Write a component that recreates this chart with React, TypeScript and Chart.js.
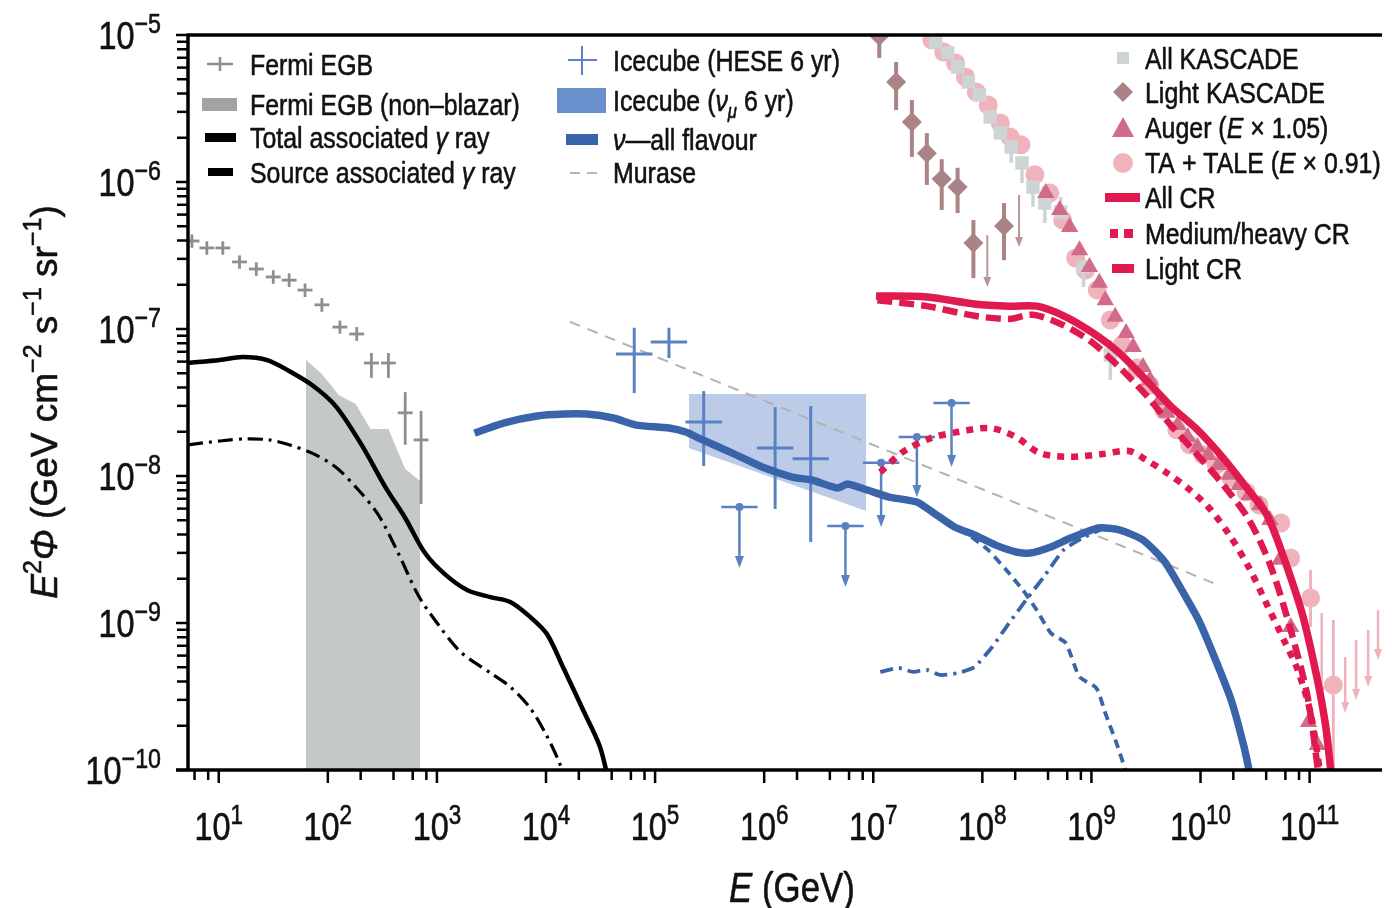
import React, { useEffect, useRef } from "react";
import { Chart, registerables } from "chart.js";

Chart.register(...registerables);

const W = 1392;
const H = 908;
const FONT = '"Liberation Sans", Arial, Helvetica, sans-serif';
const SX = 0.83;

// ---------- axis ticks ----------
const xMajorExps = [1, 2, 3, 4, 5, 6, 7, 8, 9, 10, 11];
const xMinorTicks = [6, 8, 200, 400, 600, 800, 2e4, 4e4, 6e4, 8e4, 2e6, 4e6, 6e6, 8e6, 2e8, 4e8, 6e8, 8e8, 2e10, 4e10, 6e10, 8e10];
const yMajorExps = [-5, -6, -7, -8, -9, -10];
const yMinorMantissas = [2, 3, 4, 5, 6, 7, 8, 9];

// ---------- Fermi EGB ----------
const fermiE = [5.68, 7.78, 10.9, 15.5, 22.1, 31.6, 44.2, 61.8, 88.2, 129, 184, 251, 359, 512, 716];
const fermiF = [3.97e-7, 3.56e-7, 3.56e-7, 2.86e-7, 2.56e-7, 2.26e-7, 2.15e-7, 1.84e-7, 1.46e-7, 1.03e-7, 9.25e-8, 5.87e-8, 5.87e-8, 2.69e-8, 1.76e-8];
const fermiLo = [3.57e-7, 3.2e-7, 3.2e-7, 2.57e-7, 2.3e-7, 2.03e-7, 1.93e-7, 1.65e-7, 1.31e-7, 9.3e-8, 8.3e-8, 4.65e-8, 4.65e-8, 1.63e-8, 6.46e-9];
const fermiHi = [4.4e-7, 3.95e-7, 3.95e-7, 3.17e-7, 2.84e-7, 2.51e-7, 2.39e-7, 2.04e-7, 1.62e-7, 1.14e-7, 1.03e-7, 6.87e-8, 6.87e-8, 3.72e-8, 2.77e-8];
const FERMI_HALF_BIN = 1.17;

// Fermi EGB (non-blazar) band
const fermiBandE = [63.1, 88.2, 126, 180, 246, 359, 512, 700];
const fermiBandF = [6.15e-8, 4.94e-8, 3.56e-8, 3.09e-8, 2.09e-8, 2.09e-8, 1.12e-8, 9.25e-9];

// ---------- gamma rays ----------
const totalGammaE = [5.23, 10.2, 16.5, 27.9, 44.2, 71.6, 118, 204, 337, 512, 778, 1180, 1910, 3100, 4710, 7160, 1.02e4, 1.46e4, 2.21e4, 3.1e4, 3.74e4];
const totalGammaF = [5.87e-8, 6.15e-8, 6.45e-8, 6.15e-8, 5.18e-8, 4.16e-8, 2.99e-8, 1.63e-8, 8.41e-9, 5.18e-9, 2.99e-9, 2.15e-9, 1.67e-9, 1.5e-9, 1.39e-9, 1.1e-9, 8.41e-10, 4.86e-10, 2.52e-10, 1.46e-10, 8.55e-11];
const sourceGammaE = [5.23, 10.2, 18.0, 29.1, 44.2, 71.6, 118, 191, 291, 442, 672, 1020, 1650, 3100, 4710, 7160, 1.02e4, 1.34e4, 1.49e4];
const sourceGammaF = [1.63e-8, 1.73e-8, 1.79e-8, 1.76e-8, 1.63e-8, 1.43e-8, 1.15e-8, 8.03e-9, 5.43e-9, 2.99e-9, 1.55e-9, 9.84e-10, 6.35e-10, 4.57e-10, 3.67e-10, 2.64e-10, 1.7e-10, 1.1e-10, 8.55e-11];

// ---------- neutrinos ----------
const muraseE = [1.65e4, 1.31e10];
const muraseF = [1.12e-7, 1.87e-9];

const heseE = [6.44e4, 1.34e5, 2.79e5, 1.26e6, 2.67e6];
const heseF = [6.76e-8, 8.17e-8, 2.33e-8, 1.55e-8, 1.31e-8];
const heseLo = [3.67e-8, 6.35e-8, 1.17e-8, 5.97e-9, 3.56e-9];
const heseHi = [1.02e-7, 1.02e-7, 3.78e-8, 2.94e-8, 2.99e-8];
const heseUlE = [5.93e5, 5.56e6, 1.18e7, 2.51e7, 5.22e7];
const heseUlF = [6.15e-9, 4.57e-9, 1.23e-8, 1.84e-8, 3.14e-8];
const heseUlEnd = [2.37e-9, 1.76e-9, 4.5e-9, 7.19e-9, 1.15e-8];
const HESE_HALF_BIN = 1.468;

const numuE = [2.04e5, 8.63e6];
const numuUpper = [3.61e-8, 3.61e-8];
const numuLower = [1.55e-8, 5.78e-9];

const nuAllE = [2210, 4150, 8280, 1.46e4, 2.36e4, 4.15e4, 6.71e4, 1.34e5, 1.91e5, 2.73e5, 5.12e5, 9.59e5, 1.8e6, 2.73e6, 4.71e6, 5.81e6, 8.81e6, 1.4e7, 2.51e7, 3.59e7, 5.56e7, 8.46e7, 1.31e8, 2.04e8, 2.73e8, 4.24e8, 6.44e8, 1.16e9, 1.8e9, 2.97e9, 4.71e9, 7.16e9, 9.59e9, 1.34e10, 1.91e10, 2.51e10, 2.91e10];
const nuAllF = [1.96e-8, 2.3e-8, 2.56e-8, 2.64e-8, 2.64e-8, 2.48e-8, 2.22e-8, 2.12e-8, 1.99e-8, 1.76e-8, 1.43e-8, 1.15e-8, 9.84e-9, 9.39e-9, 8.28e-9, 8.83e-9, 8.03e-9, 7.19e-9, 6.65e-9, 5.6e-9, 4.5e-9, 3.97e-9, 3.4e-9, 3.04e-9, 2.99e-9, 3.29e-9, 3.78e-9, 4.43e-9, 4.3e-9, 3.67e-9, 2.6e-9, 1.55e-9, 1.05e-9, 5.87e-10, 2.99e-10, 1.43e-10, 8.55e-11];
const nuLowE = [3.59e7, 5.56e7, 7.46e7, 1.13e8, 1.65e8, 2.36e8, 3.16e8, 4.24e8, 5.81e8, 7.78e8, 1.11e9, 1.34e9, 1.72e9, 2.12e9];
const nuLowF = [5.6e-9, 4.43e-9, 3.97e-9, 3.14e-9, 2.3e-9, 1.67e-9, 1.22e-9, 8.55e-10, 7.31e-10, 4.3e-10, 3.61e-10, 2.44e-10, 1.48e-10, 9.25e-11];
const nuHighE = [1.16e7, 1.72e7, 2.31e7, 3.1e7, 4.15e7, 5.93e7, 8.46e7, 1.23e8, 1.76e8, 2.51e8, 3.66e8, 5.56e8, 8.63e8, 1.26e9];
const nuHighF = [4.65e-10, 4.94e-10, 4.65e-10, 4.79e-10, 4.43e-10, 4.57e-10, 5.02e-10, 6.87e-10, 1.0e-9, 1.43e-9, 2.06e-9, 3.14e-9, 3.85e-9, 4.36e-9];

// ---------- cosmic-ray data ----------
const kascadeE = [3.74e7, 4.81e7, 5.93e7, 7.46e7, 9.39e7, 1.18e8, 1.46e8, 1.84e8, 2.31e8, 2.91e8, 3.74e8, 5.22e8, 8.46e8, 1.49e9];
const kascadeF = [8.96e-6, 7.55e-6, 6.06e-6, 4.79e-6, 3.91e-6, 2.77e-6, 2.16e-6, 1.73e-6, 1.35e-6, 9.24e-7, 7.19e-7, 6.25e-7, 2.64e-7, 6.65e-8];
const kascadeLo = [null, null, null, null, null, null, null, 1.35e-6, 9.84e-7, 6.76e-7, 5.26e-7, null, 1.93e-7, 4.5e-8];
const kascadeHi = [null, null, null, null, null, null, null, null, null, null, null, 7.9e-7, null, 8.41e-8];

const lightKasE = [1.135e7, 1.62e7, 2.26e7, 3.1e7, 4.24e7, 5.93e7, 8.28e7, 1.58e8];
const lightKasF = [9.85e-6, 4.79e-6, 2.56e-6, 1.57e-6, 1.05e-6, 9.24e-7, 3.85e-7, 5.02e-7];
const lightKasLo = [6.98e-6, 3.09e-6, 1.48e-6, 9.55e-7, 6.45e-7, 6.15e-7, 2.22e-7, 2.94e-7];
const lightKasHi = [1.2e-5, 6.55e-6, 3.61e-6, 2.15e-6, 1.43e-6, 1.25e-6, 5.51e-7, 7.19e-7];
const lightKasUlE = [1.11e8, 2.17e8];
const lightKasUlF = [4.35e-7, 8.16e-7];
const lightKasUlEnd = [1.93e-7, 3.61e-7];

const augerE = [3.82e8, 5.12e8, 6.31e8, 7.78e8, 9.59e8, 1.18e9, 1.34e9, 1.65e9, 2.08e9, 2.41e9, 2.97e9, 3.44e9, 4.24e9, 4.91e9, 6.18e9, 7.62e9, 9.39e9, 1.18e10, 1.46e10, 1.84e10, 2.26e10, 2.79e10, 3.51e10, 4.32e10, 5.33e10, 6.71e10, 9.79e10, 1.18e11];
const augerF = [8.41e-7, 6.45e-7, 4.94e-7, 3.44e-7, 2.64e-7, 2.06e-7, 1.57e-7, 1.21e-7, 9.39e-8, 7.55e-8, 5.51e-8, 4.5e-8, 3.29e-8, 2.69e-8, 2.22e-8, 1.84e-8, 1.57e-8, 1.39e-8, 1.19e-8, 1.02e-8, 8.69e-9, 7.43e-9, 6.35e-9, 5.02e-9, 2.69e-9, 9.39e-10, 2.12e-10, 1.48e-10];

const taE = [3.44e7, 4.42e7, 5.68e7, 7.0e7, 8.81e7, 1.13e8, 1.46e8, 1.8e8, 2.26e8, 3.03e8, 4.15e8, 5.45e8, 7.16e8, 8.81e8, 1.13e9, 1.49e9, 1.91e9, 2.62e9, 3.44e9, 4.61e9, 6.05e9, 7.94e9, 1.06e10, 1.4e10, 1.91e10, 2.62e10, 3.44e10, 5.45e10, 6.71e10, 1.02e11, 1.65e11];
const taF = [9.25e-6, 7.66e-6, 6.45e-6, 5.18e-6, 4.09e-6, 3.34e-6, 2.52e-6, 2.02e-6, 1.79e-6, 1.12e-6, 8.41e-7, 5.51e-7, 3.04e-7, 2.52e-7, 1.84e-7, 1.15e-7, 7.78e-8, 5.43e-8, 4.16e-8, 2.81e-8, 2.06e-8, 1.63e-8, 1.39e-8, 1.19e-8, 9.68e-9, 7.78e-9, 6.35e-9, 4.79e-9, 2.77e-9, 1.48e-9, 3.78e-10];
const taLo = [null, null, null, null, null, null, null, null, null, null, null, null, null, null, null, null, null, null, null, null, null, null, null, null, null, null, null, null, null, 9.39e-10, 1.0e-10];
const taHi = [null, null, null, null, null, null, null, null, null, null, null, null, null, null, null, null, null, null, null, null, null, null, null, null, null, null, null, null, null, 2.3e-9, 1.05e-9];
const taUlE = [1.29e11, 2.12e11, 2.67e11, 3.44e11, 4.24e11];
const taUlF = [1.17e-9, 5.87e-10, 7.66e-10, 8.96e-10, 1.22e-9];
const taUlEnd = [3.14e-10, 2.44e-10, 2.99e-10, 3.67e-10, 5.6e-10];

// ---------- cosmic-ray model ----------
const allCrE = [1.06e7, 3.1e7, 8.46e7, 1.76e8, 3.16e8, 5.56e8, 1.0e9, 1.8e9, 3.16e9, 5.33e9, 9.39e9, 1.58e10, 2.62e10, 4.06e10, 5.81e10, 8.63e10, 1.16e11, 1.4e11, 1.58e11];
const allCrF = [1.68e-7, 1.65e-7, 1.48e-7, 1.43e-7, 1.43e-7, 1.23e-7, 9.55e-8, 6.87e-8, 4.5e-8, 2.99e-8, 2.06e-8, 1.35e-8, 8.41e-9, 5.43e-9, 2.77e-9, 1.13e-9, 4.36e-10, 2.02e-10, 9.25e-11];
const lightCrE = [1.09e7, 3.1e7, 8.46e7, 1.76e8, 2.91e8, 5.56e8, 1.0e9, 1.8e9, 3.16e9, 5.33e9, 9.39e9, 1.62e10, 2.79e10, 4.42e10, 6.71e10, 9.59e10, 1.21e11];
const lightCrF = [1.57e-7, 1.43e-7, 1.23e-7, 1.17e-7, 1.25e-7, 1.06e-7, 8.17e-8, 5.51e-8, 3.56e-8, 2.22e-8, 1.39e-8, 8.69e-9, 5.02e-9, 2.41e-9, 8.96e-10, 3.14e-10, 9.25e-11];
const heavyCrE = [1.16e7, 1.87e7, 3.37e7, 5.93e7, 1.18e8, 2.04e8, 3.37e8, 6.44e8, 1.26e9, 2.21e9, 3.16e9, 4.91e9, 7.62e9, 1.18e10, 1.84e10, 2.79e10, 4.15e10, 5.81e10, 7.78e10, 1.02e11, 1.26e11];
const heavyCrF = [1.06e-8, 1.46e-8, 1.81e-8, 1.99e-8, 2.12e-8, 1.84e-8, 1.43e-8, 1.35e-8, 1.41e-8, 1.48e-8, 1.29e-8, 1.05e-8, 8.28e-9, 6.15e-9, 3.97e-9, 2.37e-9, 1.29e-9, 7.66e-10, 4.79e-10, 2.44e-10, 9.25e-11];

// ---------- colours ----------
const C_FERMI = "#8e8e92";
const C_BAND = "#c4c9c8";
const C_HESE = "#5a81c2";
const C_NU = "#3a64aa";
const C_CR = "#e0194e";
const C_KAS = "#ced4d4";
const C_LKAS = "#a98385";
const C_AUGER = "#d26b8a";
const C_TA = "#f0b3bc";

type Seg = { t: string; it?: boolean; sup?: boolean; sub?: boolean };

function drawRich(ctx: CanvasRenderingContext2D, segs: Seg[], x: number, y: number, size: number, align: "left" | "center" | "right", opts: any = {}) {
  const { sx = SX, rot = 0, supScale = 0.68, supRise = 0.42, color = "#111", stroke = 0.6 } = opts;
  ctx.save();
  ctx.translate(x, y);
  if (rot) ctx.rotate(rot);
  ctx.scale(sx, 1);
  const font = (s: Seg) => `${s.it ? "italic " : ""}${s.sup || s.sub ? Math.round(size * supScale) : size}px ${FONT}`;
  const ws = segs.map((s) => {
    ctx.font = font(s);
    return ctx.measureText(s.t).width;
  });
  const total = ws.reduce((a, b) => a + b, 0);
  let cx = align === "left" ? 0 : align === "center" ? -total / 2 : -total;
  ctx.fillStyle = color;
  ctx.strokeStyle = color;
  ctx.lineWidth = stroke;
  ctx.lineJoin = "round";
  ctx.setLineDash([]);
  ctx.textBaseline = "alphabetic";
  ctx.textAlign = "left";
  segs.forEach((s, i) => {
    ctx.font = font(s);
    const dy = s.sup ? -size * supRise : s.sub ? size * 0.22 : 0;
    ctx.fillText(s.t, cx, dy);
    if (stroke > 0) ctx.strokeText(s.t, cx, dy);
    cx += ws[i];
  });
  ctx.restore();
}

const pts = (xs: number[], ys: number[]) => xs.map((x, i) => ({ x, y: ys[i] }));

function lineDs(label: string, xs: number[], ys: number[], color: string, width: number, dash: number[], order: number, tension = 0.3) {
  return {
    label,
    data: pts(xs, ys),
    showLine: true,
    borderColor: color,
    backgroundColor: color,
    borderWidth: width,
    borderDash: dash,
    borderCapStyle: "butt",
    borderJoinStyle: "round",
    pointRadius: 0,
    tension,
    fill: false,
    order,
    clip: 0,
  };
}

function markerDs(label: string, xs: number[], ys: number[], style: any, radius: number, color: string, order: number, deco?: any) {
  return {
    label,
    data: pts(xs, ys),
    showLine: false,
    pointStyle: style,
    pointRadius: radius,
    pointBackgroundColor: color,
    pointBorderColor: color,
    pointBorderWidth: 0,
    backgroundColor: color,
    borderColor: color,
    order,
    clip: 0,
    deco,
  };
}

const decoPlugin = {
  id: "decoPlugin",
  afterDatasetDraw(chart: any, args: any) {
    const ds: any = chart.data.datasets[args.index];
    const d = ds.deco;
    if (!d) return;
    const ctx: CanvasRenderingContext2D = chart.ctx;
    const xs = chart.scales.x;
    const ys = chart.scales.y;
    const ca = chart.chartArea;
    ctx.save();
    ctx.beginPath();
    ctx.rect(ca.left, ca.top, ca.right - ca.left, ca.bottom - ca.top);
    ctx.clip();
    ctx.strokeStyle = d.color;
    ctx.fillStyle = d.color;
    ctx.lineWidth = d.width;
    ctx.lineCap = "butt";
    ds.data.forEach((p: any, i: number) => {
      const px = xs.getPixelForValue(p.x);
      const py = ys.getPixelForValue(p.y);
      if (d.xFactor) {
        ctx.beginPath();
        ctx.moveTo(xs.getPixelForValue(p.x / d.xFactor), py);
        ctx.lineTo(xs.getPixelForValue(p.x * d.xFactor), py);
        ctx.stroke();
      }
      if (d.lo || d.hi) {
        const lo = d.lo ? d.lo[i] : null;
        const hi = d.hi ? d.hi[i] : null;
        if (lo != null || hi != null) {
          ctx.beginPath();
          ctx.moveTo(px, ys.getPixelForValue(lo != null ? lo : p.y));
          ctx.lineTo(px, ys.getPixelForValue(hi != null ? hi : p.y));
          ctx.stroke();
        }
      }
      if (d.ulEnd) {
        const ey = ys.getPixelForValue(d.ulEnd[i]);
        const al = d.arrowLen || 11;
        const aw = d.arrowHalf || 4.5;
        ctx.beginPath();
        ctx.moveTo(px, py);
        ctx.lineTo(px, ey - al + 1);
        ctx.stroke();
        ctx.beginPath();
        ctx.moveTo(px - aw, ey - al);
        ctx.lineTo(px + aw, ey - al);
        ctx.lineTo(px, ey);
        ctx.closePath();
        ctx.fill();
      }
    });
    ctx.restore();
  },
  afterDraw(chart: any) {
    const ctx: CanvasRenderingContext2D = chart.ctx;
    const ca = chart.chartArea;
    const xs = chart.scales.x;
    const ys = chart.scales.y;
    const seg = (x1: number, y1: number, x2: number, y2: number) => {
      ctx.beginPath();
      ctx.moveTo(x1, y1);
      ctx.lineTo(x2, y2);
      ctx.stroke();
    };
    ctx.save();
    ctx.strokeStyle = "#000";
    ctx.lineCap = "butt";
    ctx.setLineDash([]);

    // ticks
    ctx.lineWidth = 2.5;
    yMajorExps.forEach((e) => {
      const py = ys.getPixelForValue(Math.pow(10, e));
      seg(ca.left - 12, py, ca.left, py);
    });
    yMajorExps.slice(1).forEach((e) => {
      yMinorMantissas.forEach((m) => {
        const py = ys.getPixelForValue(m * Math.pow(10, e));
        seg(ca.left - 11, py, ca.left, py);
      });
    });
    xMajorExps.forEach((e) => {
      const px = xs.getPixelForValue(Math.pow(10, e));
      seg(px, ca.bottom, px, ca.bottom + 13);
    });
    xMinorTicks.forEach((v) => {
      const px = xs.getPixelForValue(v);
      seg(px, ca.bottom, px, ca.bottom + 10);
    });

    // frame
    ctx.lineWidth = 3.5;
    seg(ca.left - 1.5, ca.top, ca.right, ca.top);
    seg(ca.left, ca.top, ca.left, ca.bottom);
    seg(ca.left - 12, ca.bottom, ca.right, ca.bottom);

    // tick labels
    xMajorExps.forEach((e) => {
      const px = xs.getPixelForValue(Math.pow(10, e));
      drawRich(ctx, [{ t: "10" }, { t: String(e), sup: true }], px, 840, 39, "center", { supScale: 0.7, supRise: 0.4 });
    });
    yMajorExps.forEach((e) => {
      const py = ys.getPixelForValue(Math.pow(10, e));
      drawRich(ctx, [{ t: "10" }, { t: "\u2212" + Math.abs(e), sup: true }], 161, py + 14, 39, "right", { supScale: 0.72, supRise: 0.4 });
    });

    // axis titles
    drawRich(ctx, [{ t: "E", it: true }, { t: " (GeV)" }], 792, 902, 42, "center");
    drawRich(
      ctx,
      [
        { t: "E", it: true },
        { t: "2", sup: true },
        { t: "\u03A6", it: true },
        { t: " (GeV cm" },
        { t: "\u22122", sup: true },
        { t: " s" },
        { t: "\u22121", sup: true },
        { t: " sr" },
        { t: "\u22121", sup: true },
        { t: ")" },
      ],
      57,
      402,
      37,
      "center",
      { rot: -Math.PI / 2, sx: 1 }
    );

    // ---------- legend ----------
    const LS = 30;
    const txt = (segs: Seg[], x: number, cy: number) => drawRich(ctx, segs, x, cy + 11, LS, "left");

    // column 1
    ctx.strokeStyle = C_FERMI;
    ctx.lineWidth = 2.5;
    seg(207, 64, 233, 64);
    seg(220, 57, 220, 71);
    ctx.fillStyle = "#a2a3a5";
    ctx.fillRect(202, 98, 35, 13);
    ctx.fillStyle = "#000";
    ctx.fillRect(205, 133, 31, 9);
    ctx.fillRect(208, 168, 25, 8);
    txt([{ t: "Fermi EGB" }], 250, 64);
    txt([{ t: "Fermi EGB (non\u2013blazar)" }], 250, 104);
    txt([{ t: "Total associated " }, { t: "\u03B3", it: true }, { t: " ray" }], 250, 137);
    txt([{ t: "Source associated " }, { t: "\u03B3", it: true }, { t: " ray" }], 250, 172);

    // column 2
    ctx.strokeStyle = C_HESE;
    ctx.lineWidth = 2;
    seg(568, 60, 597, 60);
    seg(582, 46, 582, 75);
    ctx.fillStyle = "#6a8fcd";
    ctx.fillRect(557, 88, 49, 25);
    ctx.fillStyle = C_NU;
    ctx.fillRect(566, 134, 32, 11);
    ctx.strokeStyle = "#b3b3b3";
    ctx.lineWidth = 2;
    ctx.setLineDash([10, 7]);
    seg(570, 173, 600, 173);
    ctx.setLineDash([]);
    txt([{ t: "Icecube (HESE 6 yr)" }], 613, 60);
    txt([{ t: "Icecube (" }, { t: "\u03BD", it: true }, { t: "\u03BC", it: true, sub: true }, { t: " 6 yr)" }], 613, 100);
    txt([{ t: "\u03BD", it: true }, { t: "\u2014all flavour" }], 613, 139);
    txt([{ t: "Murase" }], 613, 172);

    // column 3
    ctx.fillStyle = C_KAS;
    ctx.fillRect(1117, 52, 12, 12);
    ctx.fillStyle = C_LKAS;
    ctx.beginPath();
    ctx.moveTo(1123, 82);
    ctx.lineTo(1133, 92);
    ctx.lineTo(1123, 102);
    ctx.lineTo(1113, 92);
    ctx.closePath();
    ctx.fill();
    ctx.fillStyle = C_AUGER;
    ctx.beginPath();
    ctx.moveTo(1123, 117);
    ctx.lineTo(1134, 137);
    ctx.lineTo(1112, 137);
    ctx.closePath();
    ctx.fill();
    ctx.fillStyle = C_TA;
    ctx.beginPath();
    ctx.arc(1123, 163, 10, 0, Math.PI * 2);
    ctx.fill();
    ctx.fillStyle = C_CR;
    ctx.fillRect(1105, 193, 35, 9);
    ctx.fillRect(1110, 229, 8, 9);
    ctx.fillRect(1124, 229, 9, 9);
    ctx.fillRect(1112, 264, 22, 9);
    txt([{ t: "All KASCADE" }], 1145, 58);
    txt([{ t: "Light KASCADE" }], 1145, 92);
    txt([{ t: "Auger (" }, { t: "E", it: true }, { t: " \u00D7 1.05)" }], 1145, 127);
    txt([{ t: "TA + TALE (" }, { t: "E", it: true }, { t: " \u00D7 0.91)" }], 1145, 162);
    txt([{ t: "All CR" }], 1145, 197);
    txt([{ t: "Medium/heavy CR" }], 1145, 233);
    txt([{ t: "Light CR" }], 1145, 268);

    ctx.restore();
  },
};

export default function App() {
  const ref = useRef<HTMLCanvasElement>(null);
  useEffect(() => {
    const datasets: any[] = [
      {
        ...lineDs("Fermi EGB (non-blazar)", fermiBandE, fermiBandF, C_BAND, 0, [], 20, 0),
        fill: "start",
        backgroundColor: C_BAND,
      },
      {
        ...lineDs("Icecube numu upper", numuE, numuUpper, "rgba(0,0,0,0)", 0, [], 19, 0),
        fill: "+1",
        backgroundColor: "rgba(106,143,205,0.45)",
      },
      lineDs("Icecube numu lower", numuE, numuLower, "rgba(0,0,0,0)", 0, [], 19, 0),
      markerDs("Fermi EGB", fermiE, fermiF, "circle", 0, C_FERMI, 18, { color: C_FERMI, width: 2.8, xFactor: FERMI_HALF_BIN, lo: fermiLo, hi: fermiHi }),
      lineDs("Total associated gamma ray", totalGammaE, totalGammaF, "#000", 4.5, [], 17),
      lineDs("Source associated gamma ray", sourceGammaE, sourceGammaF, "#000", 3.2, [15, 6, 3, 6], 17),
      lineDs("Murase", muraseE, muraseF, "#b3b3b3", 2, [11, 8], 16, 0),
      markerDs("Icecube (HESE 6 yr)", heseE, heseF, "circle", 0, C_HESE, 15, { color: C_HESE, width: 3, xFactor: HESE_HALF_BIN, lo: heseLo, hi: heseHi }),
      markerDs("Icecube HESE limits", heseUlE, heseUlF, "circle", 4, C_HESE, 15, { color: C_HESE, width: 2.5, xFactor: HESE_HALF_BIN, ulEnd: heseUlEnd, arrowLen: 12, arrowHalf: 4.5 }),
      lineDs("nu low-energy component", nuLowE, nuLowF, C_NU, 3.8, [9, 6], 14, 0.2),
      lineDs("nu high-energy component", nuHighE, nuHighF, C_NU, 3.8, [13, 6, 3, 6], 14, 0.2),
      lineDs("nu all flavour", nuAllE, nuAllF, C_NU, 7.5, [], 13, 0.2),
      markerDs("TA + TALE", taE, taF, "circle", 9.5, C_TA, 12, { color: C_TA, width: 3, lo: taLo, hi: taHi }),
      markerDs("TA limits", taUlE, taUlF, "circle", 0, C_TA, 12, { color: C_TA, width: 2.5, ulEnd: taUlEnd, arrowLen: 11, arrowHalf: 4 }),
      markerDs("All KASCADE", kascadeE, kascadeF, "rect", 9.5, C_KAS, 11, { color: C_KAS, width: 3.5, lo: kascadeLo, hi: kascadeHi }),
      markerDs("Auger", augerE, augerF, "triangle", 10, C_AUGER, 10),
      markerDs("Light KASCADE", lightKasE, lightKasF, "rectRot", 10, C_LKAS, 9, { color: C_LKAS, width: 4, lo: lightKasLo, hi: lightKasHi }),
      markerDs("Light KASCADE limits", lightKasUlE, lightKasUlF, "circle", 0, "#b99799", 9, { color: "#b99799", width: 2, ulEnd: lightKasUlEnd, arrowLen: 10, arrowHalf: 4 }),
      lineDs("Medium/heavy CR", heavyCrE, heavyCrF, C_CR, 6.5, [7, 7], 3, 0.3),
      lineDs("Light CR", lightCrE, lightCrF, C_CR, 6.5, [15, 7], 2, 0.3),
      lineDs("All CR", allCrE, allCrF, C_CR, 7.5, [], 1, 0.3),
    ];

    const chart = new Chart(ref.current as HTMLCanvasElement, {
      type: "scatter",
      data: { datasets },
      options: {
        responsive: false,
        maintainAspectRatio: false,
        animation: false,
        events: [],
        layout: { padding: { left: 188, right: 0, top: 35, bottom: 138 } },
        scales: {
          x: { type: "logarithmic", min: 5.226, max: 4.61e11, display: false },
          y: { type: "logarithmic", min: 1e-10, max: 1e-5, display: false },
        },
        plugins: {
          legend: { display: false },
          tooltip: { enabled: false },
          title: { display: false },
        },
      } as any,
      plugins: [decoPlugin as any],
    });
    return () => chart.destroy();
  }, []);

  return (
    <div style={{ position: "fixed", left: 0, top: 0, width: W, height: H, background: "#fff" }}>
      <canvas ref={ref} width={W} height={H} style={{ width: W, height: H, display: "block" }} />
    </div>
  );
}
